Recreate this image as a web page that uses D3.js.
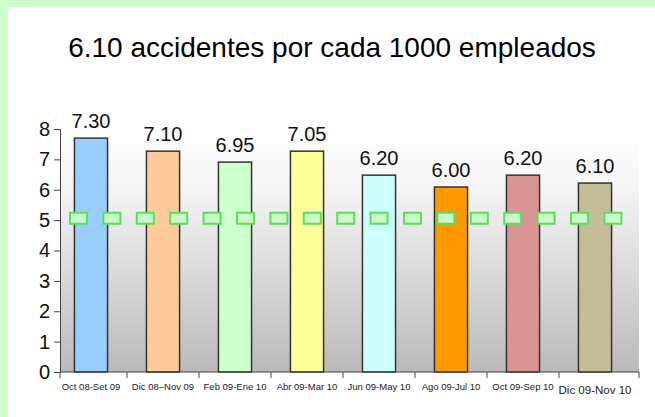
<!DOCTYPE html>
<html>
<head>
<meta charset="utf-8">
<script src="https://cdn.jsdelivr.net/npm/d3@7"></script>
<style>
  body { margin: 0; background: #fff; }
  svg { display: block; font-family: "Liberation Sans", Arial, sans-serif; }
</style>
</head>
<body>
<div class="chart"></div>
<script>
// Data
const periods = ["Oct 08-Set 09", "Dic 08\u2013Nov 09", "Feb 09-Ene 10", "Abr 09-Mar 10",
                 "Jun 09-May 10", "Ago 09-Jul 10", "Oct 09-Sep 10", "Dic 09-Nov 10"];
const barValues = [7.70, 7.27, 6.91, 7.27, 6.48, 6.09, 6.48, 6.22];
const valueLabels = ["7.30", "7.10", "6.95", "7.05", "6.20", "6.00", "6.20", "6.10"];
const barColors = ["#99ccff", "#ffcc99", "#ccffcc", "#ffff99", "#ccffff", "#ff9900", "#d99594", "#c4bd97"];
const yTicks = [0, 1, 2, 3, 4, 5, 6, 7, 8];
const target = 5;
const title = "6.10 accidentes por cada 1000 empleados";

// Dimensions
const W = 655, H = 417;
const plot = {left: 60, right: 639, top: 129, bottom: 372};

// Scales
const xScale = d3.scaleBand()
    .domain(periods)
    .range([plot.left - 5, plot.right - 8])
    .paddingInner(0.54)
    .paddingOuter(0.27);
const yScale = d3.scaleLinear()
    .domain([0, 8])
    .range([plot.bottom, plot.top]);

// Append
const svg = d3.select(".chart").append("svg")
    .attr("width", W)
    .attr("height", H);

const defs = svg.append("defs");
const grad = defs.append("linearGradient")
    .attr("id", "bg")
    .attr("x1", 0).attr("y1", 0).attr("x2", 0).attr("y2", 1);
grad.append("stop").attr("offset", "0%").attr("stop-color", "#ffffff");
grad.append("stop").attr("offset", "25%").attr("stop-color", "#f4f4f4");
grad.append("stop").attr("offset", "100%").attr("stop-color", "#bababa");

// green frame (left + top)
svg.append("rect").attr("x", 0).attr("y", 0).attr("width", W).attr("height", 7).attr("fill", "#ccffcc");
svg.append("rect").attr("x", 0).attr("y", 0).attr("width", 8).attr("height", H).attr("fill", "#ccffcc");

svg.append("text")
    .attr("x", 332)
    .attr("y", 57)
    .attr("text-anchor", "middle")
    .attr("font-size", 28)
    .attr("fill", "#000")
    .text(title);

// plot background
svg.append("rect")
    .attr("x", plot.left)
    .attr("y", plot.top)
    .attr("width", plot.right - plot.left)
    .attr("height", plot.bottom - plot.top)
    .attr("fill", "url(#bg)");

// bars
svg.selectAll(".bar")
    .data(periods)
  .enter().append("rect")
    .attr("class", "bar")
    .attr("x", d => xScale(d))
    .attr("y", (d, i) => yScale(barValues[i]))
    .attr("width", xScale.bandwidth())
    .attr("height", (d, i) => yScale(0) - yScale(barValues[i]))
    .attr("fill", (d, i) => barColors[i])
    .attr("stroke", "#333")
    .attr("stroke-width", 1.5);

// value labels
svg.selectAll(".val")
    .data(periods)
  .enter().append("text")
    .attr("class", "val")
    .attr("x", d => xScale(d) + xScale.bandwidth() / 2)
    .attr("y", (d, i) => yScale(barValues[i]) - 10)
    .attr("text-anchor", "middle")
    .attr("font-size", 20)
    .attr("fill", "#111")
    .text((d, i) => valueLabels[i]);

// target line (dashed green boxes)
const ty = yScale(target) - 2;
svg.append("line")
    .attr("x1", 69).attr("x2", 623)
    .attr("y1", ty).attr("y2", ty)
    .attr("stroke", "#5fdc5f")
    .attr("stroke-width", 13)
    .attr("stroke-dasharray", "19 14.4");
svg.append("line")
    .attr("x1", 69).attr("x2", 623)
    .attr("y1", ty).attr("y2", ty)
    .attr("stroke", "#d2fdd2")
    .attr("stroke-opacity", 0.92)
    .attr("stroke-width", 9)
    .attr("stroke-dasharray", "15 18.4")
    .attr("stroke-dashoffset", -2);

// y axis
const yAxis = svg.append("g")
    .attr("transform", "translate(" + plot.left + ",0)")
    .call(d3.axisLeft(yScale).tickValues(yTicks).tickFormat(d3.format("d")).tickSize(6).tickPadding(4));
yAxis.select(".domain").attr("stroke", "#444");
yAxis.selectAll(".tick line").attr("stroke", "#444");
yAxis.selectAll("text")
    .attr("font-size", 20)
    .attr("font-family", "Liberation Sans, Arial, sans-serif")
    .attr("fill", "#111");

// x axis
const step = xScale.step();
const bounds = periods.slice(1).map(d => xScale(d) - step * xScale.paddingInner() / 2);
bounds.unshift(plot.left);
bounds.push(plot.right);
const xg = svg.append("g");
xg.append("line")
    .attr("x1", plot.left).attr("x2", plot.right)
    .attr("y1", plot.bottom).attr("y2", plot.bottom)
    .attr("stroke", "#444");
xg.selectAll(".xt")
    .data(bounds)
  .enter().append("line")
    .attr("x1", d => d).attr("x2", d => d)
    .attr("y1", plot.bottom).attr("y2", plot.bottom + 6)
    .attr("stroke", "#444");
xg.selectAll(".xl")
    .data(periods)
  .enter().append("text")
    .attr("x", d => xScale(d) + xScale.bandwidth() / 2)
    .attr("y", (d, i) => i === periods.length - 1 ? 394 : 390)
    .attr("text-anchor", "middle")
    .attr("font-size", (d, i) => i === periods.length - 1 ? 11.5 : 9.5)
    .attr("fill", "#222")
    .text(d => d);
</script>
</body>
</html>
